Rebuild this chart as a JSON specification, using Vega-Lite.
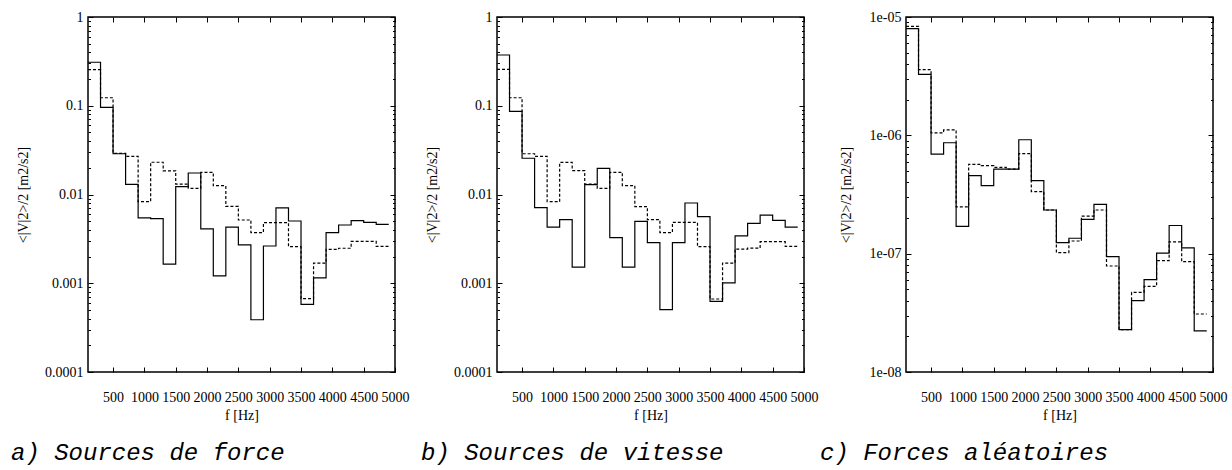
{
  "$schema": "https://vega.github.io/schema/vega-lite/v6.json",
  "background": "white",
  "padding": {"left": 10, "top": 9, "right": 5, "bottom": 5},
  "bounds": "flush",
  "spacing": 102,
  "config": {
    "font": "Liberation Serif",
    "view": {"stroke": "black", "strokeWidth": 1.5},
    "axis": {
      "domain": false, "grid": false,
      "labelFont": "Liberation Serif", "labelFontSize": 14, "labelColor": "black",
      "titleFont": "Liberation Serif", "titleFontSize": 14, "titleFontWeight": "normal", "titleColor": "black",
      "tickColor": "black", "tickWidth": 1, "labelOverlap": false, "labelFlush": false
    },
    "title": {"font": "Liberation Mono", "fontStyle": "italic", "fontWeight": "normal", "fontSize": 24, "color": "black"}
  },
  "data": {"values": [
    {"p":1,"s":"a","f":100,"v":0.309},{"p":1,"s":"a","f":300,"v":0.0961},{"p":1,"s":"a","f":500,"v":0.0288},{"p":1,"s":"a","f":700,"v":0.013},{"p":1,"s":"a","f":900,"v":0.00544},{"p":1,"s":"a","f":1100,"v":0.00534},{"p":1,"s":"a","f":1300,"v":0.00164},{"p":1,"s":"a","f":1500,"v":0.01225},{"p":1,"s":"a","f":1700,"v":0.01747},{"p":1,"s":"a","f":1900,"v":0.00409},{"p":1,"s":"a","f":2100,"v":0.00121},{"p":1,"s":"a","f":2300,"v":0.0043},{"p":1,"s":"a","f":2500,"v":0.0027},{"p":1,"s":"a","f":2700,"v":0.000388},{"p":1,"s":"a","f":2900,"v":0.00263},{"p":1,"s":"a","f":3100,"v":0.00705},{"p":1,"s":"a","f":3300,"v":0.00503},{"p":1,"s":"a","f":3500,"v":0.000579},{"p":1,"s":"a","f":3700,"v":0.00115},{"p":1,"s":"a","f":3900,"v":0.00371},{"p":1,"s":"a","f":4100,"v":0.00453},{"p":1,"s":"a","f":4300,"v":0.00507},{"p":1,"s":"a","f":4500,"v":0.00486},{"p":1,"s":"a","f":4700,"v":0.0046},{"p":1,"s":"a","f":4900,"v":0.0046},
    {"p":1,"s":"b","f":100,"v":0.255},{"p":1,"s":"b","f":300,"v":0.123},{"p":1,"s":"b","f":500,"v":0.029},{"p":1,"s":"b","f":700,"v":0.0269},{"p":1,"s":"b","f":900,"v":0.0083},{"p":1,"s":"b","f":1100,"v":0.0231},{"p":1,"s":"b","f":1300,"v":0.0185},{"p":1,"s":"b","f":1500,"v":0.0131},{"p":1,"s":"b","f":1700,"v":0.01175},{"p":1,"s":"b","f":1900,"v":0.0178},{"p":1,"s":"b","f":2100,"v":0.01256},{"p":1,"s":"b","f":2300,"v":0.00736},{"p":1,"s":"b","f":2500,"v":0.00516},{"p":1,"s":"b","f":2700,"v":0.00371},{"p":1,"s":"b","f":2900,"v":0.00481},{"p":1,"s":"b","f":3100,"v":0.00481},{"p":1,"s":"b","f":3300,"v":0.00258},{"p":1,"s":"b","f":3500,"v":0.00067},{"p":1,"s":"b","f":3700,"v":0.00169},{"p":1,"s":"b","f":3900,"v":0.00241},{"p":1,"s":"b","f":4100,"v":0.00248},{"p":1,"s":"b","f":4300,"v":0.00297},{"p":1,"s":"b","f":4500,"v":0.00297},{"p":1,"s":"b","f":4700,"v":0.0026},{"p":1,"s":"b","f":4900,"v":0.0026},
    {"p":2,"s":"a","f":100,"v":0.373},{"p":2,"s":"a","f":300,"v":0.0865},{"p":2,"s":"a","f":500,"v":0.0256},{"p":2,"s":"a","f":700,"v":0.00711},{"p":2,"s":"a","f":900,"v":0.0043},{"p":2,"s":"a","f":1100,"v":0.0052},{"p":2,"s":"a","f":1300,"v":0.00152},{"p":2,"s":"a","f":1500,"v":0.0129},{"p":2,"s":"a","f":1700,"v":0.0197},{"p":2,"s":"a","f":1900,"v":0.00326},{"p":2,"s":"a","f":2100,"v":0.00152},{"p":2,"s":"a","f":2300,"v":0.00499},{"p":2,"s":"a","f":2500,"v":0.00287},{"p":2,"s":"a","f":2700,"v":0.000504},{"p":2,"s":"a","f":2900,"v":0.00287},{"p":2,"s":"a","f":3100,"v":0.00802},{"p":2,"s":"a","f":3300,"v":0.00563},{"p":2,"s":"a","f":3500,"v":0.000625},{"p":2,"s":"a","f":3700,"v":0.00101},{"p":2,"s":"a","f":3900,"v":0.00341},{"p":2,"s":"a","f":4100,"v":0.00473},{"p":2,"s":"a","f":4300,"v":0.00587},{"p":2,"s":"a","f":4500,"v":0.00512},{"p":2,"s":"a","f":4700,"v":0.0043},{"p":2,"s":"a","f":4900,"v":0.0043},
    {"p":2,"s":"b","f":100,"v":0.257},{"p":2,"s":"b","f":300,"v":0.123},{"p":2,"s":"b","f":500,"v":0.0288},{"p":2,"s":"b","f":700,"v":0.0269},{"p":2,"s":"b","f":900,"v":0.0083},{"p":2,"s":"b","f":1100,"v":0.023},{"p":2,"s":"b","f":1300,"v":0.0186},{"p":2,"s":"b","f":1500,"v":0.0131},{"p":2,"s":"b","f":1700,"v":0.01173},{"p":2,"s":"b","f":1900,"v":0.0178},{"p":2,"s":"b","f":2100,"v":0.0126},{"p":2,"s":"b","f":2300,"v":0.0073},{"p":2,"s":"b","f":2500,"v":0.0052},{"p":2,"s":"b","f":2700,"v":0.00372},{"p":2,"s":"b","f":2900,"v":0.00485},{"p":2,"s":"b","f":3100,"v":0.00485},{"p":2,"s":"b","f":3300,"v":0.00258},{"p":2,"s":"b","f":3500,"v":0.000665},{"p":2,"s":"b","f":3700,"v":0.00169},{"p":2,"s":"b","f":3900,"v":0.00243},{"p":2,"s":"b","f":4100,"v":0.00249},{"p":2,"s":"b","f":4300,"v":0.00294},{"p":2,"s":"b","f":4500,"v":0.00294},{"p":2,"s":"b","f":4700,"v":0.0026},{"p":2,"s":"b","f":4900,"v":0.0026},
    {"p":3,"s":"a","f":100,"v":7.97e-6},{"p":3,"s":"a","f":300,"v":3.27e-6},{"p":3,"s":"a","f":500,"v":6.95e-7},{"p":3,"s":"a","f":700,"v":8.66e-7},{"p":3,"s":"a","f":900,"v":1.7e-7},{"p":3,"s":"a","f":1100,"v":4.56e-7},{"p":3,"s":"a","f":1300,"v":3.76e-7},{"p":3,"s":"a","f":1500,"v":5.19e-7},{"p":3,"s":"a","f":1700,"v":5.19e-7},{"p":3,"s":"a","f":1900,"v":9.18e-7},{"p":3,"s":"a","f":2100,"v":4.14e-7},{"p":3,"s":"a","f":2300,"v":2.34e-7},{"p":3,"s":"a","f":2500,"v":1.24e-7},{"p":3,"s":"a","f":2700,"v":1.35e-7},{"p":3,"s":"a","f":2900,"v":1.95e-7},{"p":3,"s":"a","f":3100,"v":2.61e-7},{"p":3,"s":"a","f":3300,"v":9.44e-8},{"p":3,"s":"a","f":3500,"v":2.28e-8},{"p":3,"s":"a","f":3700,"v":4.01e-8},{"p":3,"s":"a","f":3900,"v":6.03e-8},{"p":3,"s":"a","f":4100,"v":1.01e-7},{"p":3,"s":"a","f":4300,"v":1.73e-7},{"p":3,"s":"a","f":4500,"v":1.12e-7},{"p":3,"s":"a","f":4700,"v":2.23e-8},{"p":3,"s":"a","f":4900,"v":2.23e-8},
    {"p":3,"s":"b","f":100,"v":8.34e-6},{"p":3,"s":"b","f":300,"v":3.59e-6},{"p":3,"s":"b","f":500,"v":1.05e-6},{"p":3,"s":"b","f":700,"v":1.11e-6},{"p":3,"s":"b","f":900,"v":2.49e-7},{"p":3,"s":"b","f":1100,"v":5.69e-7},{"p":3,"s":"b","f":1300,"v":5.54e-7},{"p":3,"s":"b","f":1500,"v":5.37e-7},{"p":3,"s":"b","f":1700,"v":5.19e-7},{"p":3,"s":"b","f":1900,"v":7.0e-7},{"p":3,"s":"b","f":2100,"v":3.34e-7},{"p":3,"s":"b","f":2300,"v":2.34e-7},{"p":3,"s":"b","f":2500,"v":1.02e-7},{"p":3,"s":"b","f":2700,"v":1.28e-7},{"p":3,"s":"b","f":2900,"v":2.08e-7},{"p":3,"s":"b","f":3100,"v":2.34e-7},{"p":3,"s":"b","f":3300,"v":7.87e-8},{"p":3,"s":"b","f":3500,"v":2.28e-8},{"p":3,"s":"b","f":3700,"v":4.71e-8},{"p":3,"s":"b","f":3900,"v":5.3e-8},{"p":3,"s":"b","f":4100,"v":8.73e-8},{"p":3,"s":"b","f":4300,"v":1.26e-7},{"p":3,"s":"b","f":4500,"v":8.55e-8},{"p":3,"s":"b","f":4700,"v":3.09e-8},{"p":3,"s":"b","f":4900,"v":3.09e-8}
  ]},
  "hconcat": [
    {
      "width": 307, "height": 355,
      "title": {"text": "a) Sources de force", "orient": "bottom", "anchor": "start", "frame": "group", "dx": -77, "offset": 19, "baseline": "top"},
      "transform": [{"filter": "datum.p == 1"}],
      "layer": [
        {
          "transform": [{"filter": "datum.s == 'b'"}],
          "mark": {"type": "line", "interpolate": "step-after", "color": "black", "strokeWidth": 1.2, "strokeDash": [3, 2]},
          "encoding": {
            "x": {"field": "f", "type": "quantitative", "scale": {"domain": [100, 5000], "nice": false, "zero": false},
                  "axis": {"orient": "top", "values": [500,1000,1500,2000,2500,3000,3500,4000,4500,5000], "labels": false, "title": null, "tickSize": -5}},
            "y": {"field": "v", "type": "quantitative", "scale": {"type": "log", "domain": [0.0001, 1], "nice": false},
                  "axis": {"orient": "right", "title": null, "labels": false,
                           "values": [0.0001,0.0002,0.0003,0.0004,0.0005,0.0006,0.0007,0.0008,0.0009,0.001,0.002,0.003,0.004,0.005,0.006,0.007,0.008,0.009,0.01,0.02,0.03,0.04,0.05,0.06,0.07,0.08,0.09,0.1,0.2,0.3,0.4,0.5,0.6,0.7,0.8,0.9,1],
                           "tickSize": {"condition": {"test": "indexof([1,0.1,0.01,0.001,0.0001], datum.value) >= 0", "value": -5}, "value": -2.5}}}
          }
        },
        {
          "transform": [{"filter": "datum.s == 'a'"}],
          "mark": {"type": "line", "interpolate": "step-after", "color": "black", "strokeWidth": 1.2},
          "encoding": {
            "x": {"field": "f", "type": "quantitative", "scale": {"domain": [100, 5000], "nice": false, "zero": false},
                  "axis": {"orient": "bottom", "values": [500,1000,1500,2000,2500,3000,3500,4000,4500,5000], "format": "d", "title": "f [Hz]", "tickSize": -5, "labelPadding": 23, "titleY": 43, "titleBaseline": "middle"}},
            "y": {"field": "v", "type": "quantitative", "scale": {"type": "log", "domain": [0.0001, 1], "nice": false},
                  "axis": {"orient": "left", "title": "<|V|2>/2 [m2/s2]", "titleX": -65, "titleY": 177.5, "titleBaseline": "middle", "titleAlign": "center", "labelPadding": 10,
                           "values": [0.0001,0.0002,0.0003,0.0004,0.0005,0.0006,0.0007,0.0008,0.0009,0.001,0.002,0.003,0.004,0.005,0.006,0.007,0.008,0.009,0.01,0.02,0.03,0.04,0.05,0.06,0.07,0.08,0.09,0.1,0.2,0.3,0.4,0.5,0.6,0.7,0.8,0.9,1],
                           "labelExpr": "datum.value == 1 ? '1' : datum.value == 0.1 ? '0.1' : datum.value == 0.01 ? '0.01' : datum.value == 0.001 ? '0.001' : datum.value == 0.0001 ? '0.0001' : ''",
                           "tickSize": {"condition": {"test": "indexof([1,0.1,0.01,0.001,0.0001], datum.value) >= 0", "value": -5}, "value": -2.5}}}
          }
        }
      ],
      "resolve": {"axis": {"x": "independent", "y": "independent"}}
    },
    {
      "width": 307, "height": 355,
      "title": {"text": "b) Sources de vitesse", "orient": "bottom", "anchor": "start", "frame": "group", "dx": -76, "offset": 19, "baseline": "top"},
      "transform": [{"filter": "datum.p == 2"}],
      "layer": [
        {
          "transform": [{"filter": "datum.s == 'b'"}],
          "mark": {"type": "line", "interpolate": "step-after", "color": "black", "strokeWidth": 1.2, "strokeDash": [3, 2]},
          "encoding": {
            "x": {"field": "f", "type": "quantitative", "scale": {"domain": [100, 5000], "nice": false, "zero": false},
                  "axis": {"orient": "top", "values": [500,1000,1500,2000,2500,3000,3500,4000,4500,5000], "labels": false, "title": null, "tickSize": -5}},
            "y": {"field": "v", "type": "quantitative", "scale": {"type": "log", "domain": [0.0001, 1], "nice": false},
                  "axis": {"orient": "right", "title": null, "labels": false,
                           "values": [0.0001,0.0002,0.0003,0.0004,0.0005,0.0006,0.0007,0.0008,0.0009,0.001,0.002,0.003,0.004,0.005,0.006,0.007,0.008,0.009,0.01,0.02,0.03,0.04,0.05,0.06,0.07,0.08,0.09,0.1,0.2,0.3,0.4,0.5,0.6,0.7,0.8,0.9,1],
                           "tickSize": {"condition": {"test": "indexof([1,0.1,0.01,0.001,0.0001], datum.value) >= 0", "value": -5}, "value": -2.5}}}
          }
        },
        {
          "transform": [{"filter": "datum.s == 'a'"}],
          "mark": {"type": "line", "interpolate": "step-after", "color": "black", "strokeWidth": 1.2},
          "encoding": {
            "x": {"field": "f", "type": "quantitative", "scale": {"domain": [100, 5000], "nice": false, "zero": false},
                  "axis": {"orient": "bottom", "values": [500,1000,1500,2000,2500,3000,3500,4000,4500,5000], "format": "d", "title": "f [Hz]", "tickSize": -5, "labelPadding": 23, "titleY": 43, "titleBaseline": "middle"}},
            "y": {"field": "v", "type": "quantitative", "scale": {"type": "log", "domain": [0.0001, 1], "nice": false},
                  "axis": {"orient": "left", "title": "<|V|2>/2 [m2/s2]", "titleX": -65, "titleY": 177.5, "titleBaseline": "middle", "titleAlign": "center", "labelPadding": 10,
                           "values": [0.0001,0.0002,0.0003,0.0004,0.0005,0.0006,0.0007,0.0008,0.0009,0.001,0.002,0.003,0.004,0.005,0.006,0.007,0.008,0.009,0.01,0.02,0.03,0.04,0.05,0.06,0.07,0.08,0.09,0.1,0.2,0.3,0.4,0.5,0.6,0.7,0.8,0.9,1],
                           "labelExpr": "datum.value == 1 ? '1' : datum.value == 0.1 ? '0.1' : datum.value == 0.01 ? '0.01' : datum.value == 0.001 ? '0.001' : datum.value == 0.0001 ? '0.0001' : ''",
                           "tickSize": {"condition": {"test": "indexof([1,0.1,0.01,0.001,0.0001], datum.value) >= 0", "value": -5}, "value": -2.5}}}
          }
        }
      ],
      "resolve": {"axis": {"x": "independent", "y": "independent"}}
    },
    {
      "width": 307, "height": 355,
      "title": {"text": "c) Forces aléatoires", "orient": "bottom", "anchor": "start", "frame": "group", "dx": -86, "offset": 19, "baseline": "top"},
      "transform": [{"filter": "datum.p == 3"}],
      "layer": [
        {
          "transform": [{"filter": "datum.s == 'b'"}],
          "mark": {"type": "line", "interpolate": "step-after", "color": "black", "strokeWidth": 1.2, "strokeDash": [3, 2]},
          "encoding": {
            "x": {"field": "f", "type": "quantitative", "scale": {"domain": [100, 5000], "nice": false, "zero": false},
                  "axis": {"orient": "top", "values": [500,1000,1500,2000,2500,3000,3500,4000,4500,5000], "labels": false, "title": null, "tickSize": -5}},
            "y": {"field": "v", "type": "quantitative", "scale": {"type": "log", "domain": [1e-8, 1e-5], "nice": false},
                  "axis": {"orient": "right", "title": null, "labels": false,
                           "values": [1e-8,2e-8,3e-8,4e-8,5e-8,6e-8,7e-8,8e-8,9e-8,1e-7,2e-7,3e-7,4e-7,5e-7,6e-7,7e-7,8e-7,9e-7,1e-6,2e-6,3e-6,4e-6,5e-6,6e-6,7e-6,8e-6,9e-6,1e-5],
                           "tickSize": {"condition": {"test": "indexof([1e-8,1e-7,1e-6,1e-5], datum.value) >= 0", "value": -5}, "value": -2.5}}}
          }
        },
        {
          "transform": [{"filter": "datum.s == 'a'"}],
          "mark": {"type": "line", "interpolate": "step-after", "color": "black", "strokeWidth": 1.2},
          "encoding": {
            "x": {"field": "f", "type": "quantitative", "scale": {"domain": [100, 5000], "nice": false, "zero": false},
                  "axis": {"orient": "bottom", "values": [500,1000,1500,2000,2500,3000,3500,4000,4500,5000], "format": "d", "title": "f [Hz]", "tickSize": -5, "labelPadding": 23, "titleY": 43, "titleBaseline": "middle"}},
            "y": {"field": "v", "type": "quantitative", "scale": {"type": "log", "domain": [1e-8, 1e-5], "nice": false},
                  "axis": {"orient": "left", "title": "<|V|2>/2 [m2/s2]", "titleX": -60, "titleY": 177.5, "titleBaseline": "middle", "titleAlign": "center", "labelPadding": 10,
                           "values": [1e-8,2e-8,3e-8,4e-8,5e-8,6e-8,7e-8,8e-8,9e-8,1e-7,2e-7,3e-7,4e-7,5e-7,6e-7,7e-7,8e-7,9e-7,1e-6,2e-6,3e-6,4e-6,5e-6,6e-6,7e-6,8e-6,9e-6,1e-5],
                           "labelExpr": "datum.value == 1e-5 ? '1e-05' : datum.value == 1e-6 ? '1e-06' : datum.value == 1e-7 ? '1e-07' : datum.value == 1e-8 ? '1e-08' : ''",
                           "tickSize": {"condition": {"test": "indexof([1e-8,1e-7,1e-6,1e-5], datum.value) >= 0", "value": -5}, "value": -2.5}}}
          }
        }
      ],
      "resolve": {"axis": {"x": "independent", "y": "independent"}}
    }
  ]
}
